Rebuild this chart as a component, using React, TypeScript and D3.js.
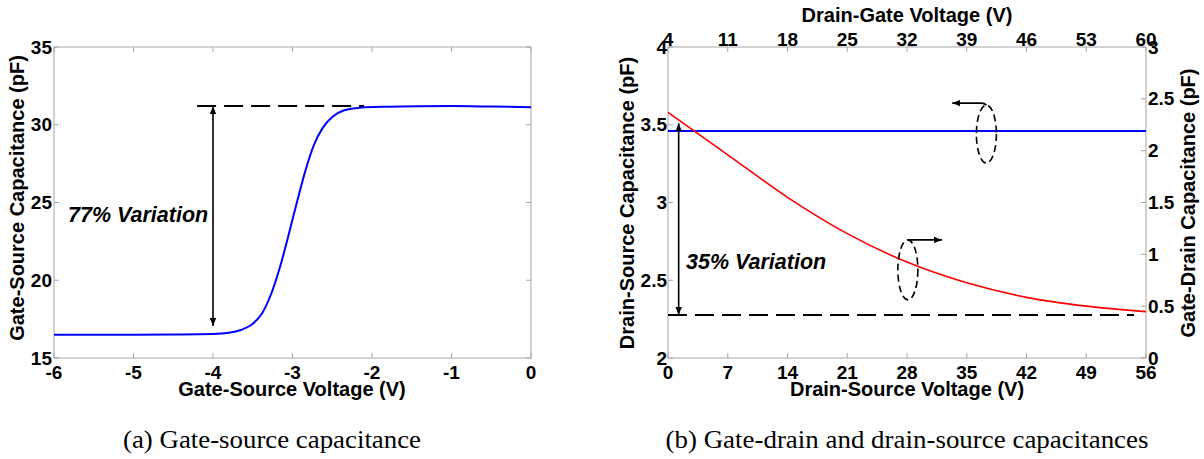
import React from 'react';
import * as d3 from 'd3';

// ---- Data: (a) Gate-source capacitance ----
const gsVoltage = [-6, -5, -4.5, -4, -3.8, -3.65, -3.5, -3.38, -3.27, -3.16, -3.05, -2.95, -2.84, -2.73, -2.62, -2.5, -2.35, -2.15, -1.8, -1.4, -1, -0.5, 0];
const gsCap = [16.5, 16.5, 16.51, 16.54, 16.62, 16.8, 17.2, 17.9, 19.1, 20.8, 22.9, 24.9, 27.0, 28.7, 29.8, 30.5, 30.93, 31.1, 31.16, 31.19, 31.2, 31.17, 31.13];
const gsXTicks = [-6, -5, -4, -3, -2, -1, 0];
const gsYTicks = [15, 20, 25, 30, 35];

// ---- Data: (b) Drain-source / gate-drain capacitances ----
const dsVoltage = [0, 56];
const dsCap = [3.46, 3.46];
const dgVoltage = [4, 11, 18, 25, 32, 39, 46, 53, 60];
const gdCap = [2.37, 1.96, 1.55, 1.2, 0.925, 0.725, 0.585, 0.5, 0.447];
const dsXTicks = [0, 7, 14, 21, 28, 35, 42, 49, 56];
const dgXTicks = [4, 11, 18, 25, 32, 39, 46, 53, 60];
const dsYTicks = [2, 2.5, 3, 3.5, 4];
const gdYTicks = [0, 0.5, 1, 1.5, 2, 2.5, 3];

const FONT = '"Liberation Sans", Arial, sans-serif';
const SERIF = '"Liberation Serif", "Times New Roman", serif';
const FRAME = '#a6a6a6';
const TICK_FS = 19;
const LABEL_FS = 20;

const TOP = 47;
const BOT = 358;

export default function App() {
  // Left plot scales
  const xA = d3.scaleLinear().domain([-6, 0]).range([54, 531]);
  const yA = d3.scaleLinear().domain([15, 35]).range([BOT, TOP]);
  // Right plot scales
  const xB = d3.scaleLinear().domain([0, 56]).range([668, 1146]);
  const xBTop = d3.scaleLinear().domain([4, 60]).range([668, 1146]);
  const yBL = d3.scaleLinear().domain([2, 4]).range([BOT, TOP]);
  const yBR = d3.scaleLinear().domain([0, 3]).range([BOT, TOP]);

  const lineA = d3.line<number>().x((_, i) => xA(gsVoltage[i])).y((d) => yA(d)).curve(d3.curveMonotoneX);
  const lineBlue = d3.line<number>().x((_, i) => xB(dsVoltage[i])).y((d) => yBL(d));
  const lineRed = d3.line<number>().x((_, i) => xBTop(dgVoltage[i])).y((d) => yBR(d)).curve(d3.curveMonotoneX);

  const tickLen = 5;

  const frame = (x0: number, x1: number) => (
    <rect x={x0} y={TOP} width={x1 - x0} height={BOT - TOP} fill="none" stroke={FRAME} strokeWidth={1} />
  );

  const tickText = { fontFamily: FONT, fontSize: TICK_FS, fontWeight: 700, fill: '#000' } as const;
  const labelText = { fontFamily: FONT, fontSize: LABEL_FS, fontWeight: 700, fill: '#000' } as const;
  const noteText = { fontFamily: FONT, fontSize: 21.5, fontWeight: 700, fontStyle: 'italic', fill: '#000' } as const;

  return (
    <svg width={1204} height={459} style={{ position: 'absolute', left: 0, top: 0, background: '#fff' }}>
      <defs>
        <marker id="ah" viewBox="0 0 10 10" refX="10" refY="5" markerWidth="8" markerHeight="8" markerUnits="userSpaceOnUse" orient="auto-start-reverse">
          <path d="M0,1 L10,5 L0,9 z" fill="#000" />
        </marker>
      </defs>

      {/* ================= (a) ================= */}
      {frame(54, 531)}
      {gsXTicks.map((t) => (
        <g key={'ax' + t}>
          <line x1={xA(t)} x2={xA(t)} y1={BOT} y2={BOT - tickLen} stroke={FRAME} />
          <line x1={xA(t)} x2={xA(t)} y1={TOP} y2={TOP + tickLen} stroke={FRAME} />
          <text x={xA(t)} y={379} textAnchor="middle" {...tickText}>{t}</text>
        </g>
      ))}
      {gsYTicks.map((t) => (
        <g key={'ay' + t}>
          <line x1={54} x2={54 + tickLen} y1={yA(t)} y2={yA(t)} stroke={FRAME} />
          <line x1={531} x2={531 - tickLen} y1={yA(t)} y2={yA(t)} stroke={FRAME} />
          <text x={52} y={yA(t) + 6.5} textAnchor="end" {...tickText}>{t}</text>
        </g>
      ))}
      <text x={292} y={396} textAnchor="middle" {...labelText}>Gate-Source Voltage (V)</text>
      <text transform="translate(24,198) rotate(-90)" textAnchor="middle" {...labelText}>Gate-Source Capacitance (pF)</text>

      <line x1={xA(-4.2)} x2={xA(-2.1)} y1={yA(31.2)} y2={yA(31.2)} stroke="#000" strokeWidth={2} strokeDasharray="19,8" />
      <line x1={xA(-4)} x2={xA(-4)} y1={yA(31.2)} y2={yA(17.06)} stroke="#000" strokeWidth={1.6} markerStart="url(#ah)" markerEnd="url(#ah)" />
      <path d={lineA(gsCap) || ''} fill="none" stroke="#0000ff" strokeWidth={2} />
      <text x={68} y={222} {...noteText}>77% Variation</text>

      {/* ================= (b) ================= */}
      {frame(668, 1146)}
      {dsXTicks.map((t) => (
        <g key={'bx' + t}>
          <line x1={xB(t)} x2={xB(t)} y1={BOT} y2={BOT - tickLen} stroke={FRAME} />
          <text x={xB(t)} y={379} textAnchor="middle" {...tickText}>{t}</text>
        </g>
      ))}
      {dgXTicks.map((t) => (
        <g key={'bxt' + t}>
          <line x1={xBTop(t)} x2={xBTop(t)} y1={TOP} y2={TOP + tickLen} stroke={FRAME} />
          <text x={xBTop(t)} y={46} textAnchor="middle" {...tickText}>{t}</text>
        </g>
      ))}
      {dsYTicks.map((t) => (
        <g key={'byl' + t}>
          <line x1={668} x2={668 + tickLen} y1={yBL(t)} y2={yBL(t)} stroke={FRAME} />
          <text x={667} y={yBL(t) + 6.5} textAnchor="end" {...tickText}>{t}</text>
        </g>
      ))}
      {gdYTicks.map((t) => (
        <g key={'byr' + t}>
          <line x1={1146} x2={1146 - tickLen} y1={yBR(t)} y2={yBR(t)} stroke={FRAME} />
          <text x={1148} y={yBR(t) + 6.5} textAnchor="start" {...tickText}>{t}</text>
        </g>
      ))}
      <text x={907} y={396} textAnchor="middle" {...labelText}>Drain-Source Voltage (V)</text>
      <text x={907} y={22} textAnchor="middle" {...labelText}>Drain-Gate Voltage (V)</text>
      <text transform="translate(634,203) rotate(-90)" textAnchor="middle" {...labelText}>Drain-Source Capacitance (pF)</text>
      <text transform="translate(1195,203) rotate(-90)" textAnchor="middle" {...labelText}>Gate-Drain Capacitance (pF)</text>

      <path d={lineBlue(dsCap) || ''} fill="none" stroke="#0000ff" strokeWidth={2} />
      <path d={lineRed(gdCap) || ''} fill="none" stroke="#ff0000" strokeWidth={1.6} />
      <line x1={xB(0)} x2={xB(54.6)} y1={yBL(2.277)} y2={yBL(2.277)} stroke="#000" strokeWidth={2} strokeDasharray="19,8" />
      <line x1={xB(1.25)} x2={xB(1.25)} y1={yBL(3.51)} y2={yBL(2.277)} stroke="#000" strokeWidth={1.6} markerStart="url(#ah)" markerEnd="url(#ah)" />
      <text x={686} y={269} {...noteText}>35% Variation</text>

      {/* axis-indicator ellipses */}
      <ellipse cx={xB(37.3)} cy={yBL(3.44)} rx={10} ry={29} fill="none" stroke="#000" strokeWidth={1.6} strokeDasharray="7,4" />
      <path d={`M${xB(37.3)},${yBL(3.44) - 29} Q${xB(37.3) - 2},${yBL(3.44) - 31} ${xB(36.7)},${yBL(3.44) - 31} L${xB(33.3)},${yBL(3.44) - 31}`} fill="none" stroke="#000" strokeWidth={1.6} markerEnd="url(#ah)" />
      <ellipse cx={xB(28.1)} cy={yBR(0.85)} rx={10} ry={30} fill="none" stroke="#000" strokeWidth={1.6} strokeDasharray="7,4" />
      <path d={`M${xB(28.1)},${yBR(0.85) - 30} L${xB(32.1)},${yBR(0.85) - 30}`} fill="none" stroke="#000" strokeWidth={1.6} markerEnd="url(#ah)" />

      {/* captions */}
      <text x={272} y={448} textAnchor="middle" fontFamily={SERIF} fontSize={25} textLength={298} lengthAdjust="spacingAndGlyphs" fill="#000">(a)  Gate-source capacitance</text>
      <text x={907} y={448} textAnchor="middle" fontFamily={SERIF} fontSize={25} textLength={483} lengthAdjust="spacingAndGlyphs" fill="#000">(b)  Gate-drain and drain-source capacitances</text>
    </svg>
  );
}
